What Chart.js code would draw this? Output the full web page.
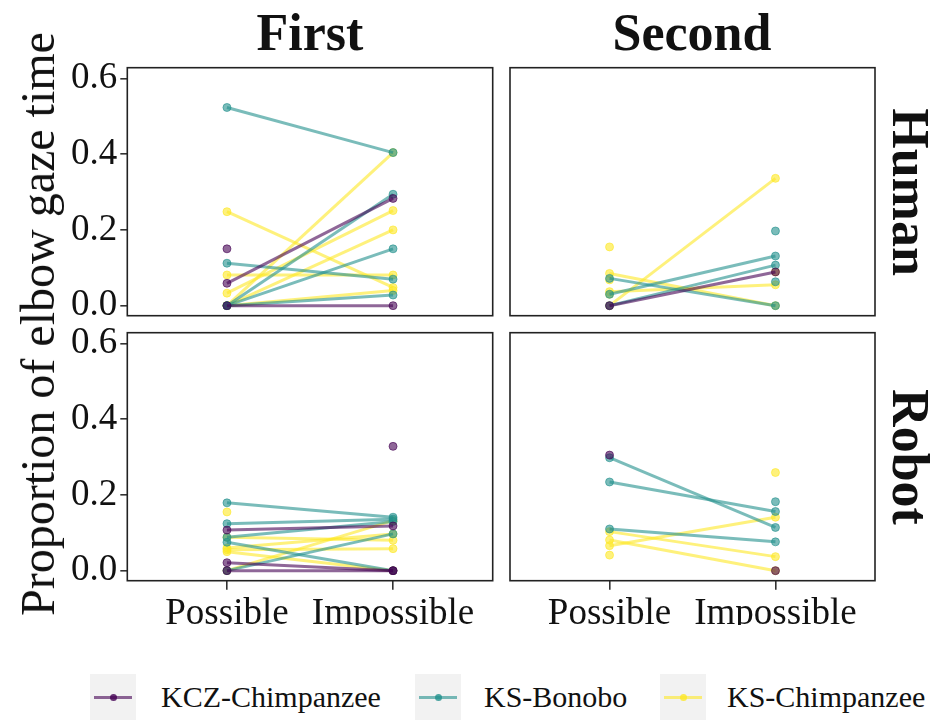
<!DOCTYPE html>
<html>
<head>
  <script src="https://cdn.jsdelivr.net/npm/chart.js@4.4.1/dist/chart.umd.min.js"></script>
  <title>Elbow gaze time</title>
  <style>
    body { margin: 0; background: #fff; }
    #wrap { position: relative; width: 936px; height: 721px; overflow: hidden;
            font-family: "Liberation Serif", "Times New Roman", serif; color: #111; }
    canvas { position: absolute; }
    .txt { position: absolute; line-height: 1; white-space: nowrap; transform: translate(-50%, -50%); }
    .title { font-size: 52px; font-weight: bold; }
    .strip { font-size: 52px; font-weight: bold; transform: translate(-50%, -50%) rotate(90deg); }
    .ytitle { font-size: 48px; transform: translate(-50%, -50%) rotate(-90deg); }
    .key { position: absolute; top: 674px; width: 46px; height: 46px; background: #f2f2f2; }
    .key .ln { position: absolute; left: 4px; right: 4px; top: 21.5px; height: 3px; }
    .key .dot { position: absolute; left: 19.5px; top: 19.5px; width: 7px; height: 7px; border-radius: 50%; }
    .lab { position: absolute; top: 697px; font-size: 30px; line-height: 1; transform: translateY(-50%); white-space: nowrap; }
  </style>
</head>
<body>
<div id="wrap">
  <canvas id="c1" width="500" height="345" style="left:0;top:0"></canvas>
  <canvas id="c2" width="431" height="345" style="left:505px;top:0"></canvas>
  <canvas id="c3" width="500" height="330" style="left:0;top:295px"></canvas>
  <canvas id="c4" width="431" height="330" style="left:505px;top:295px"></canvas>

  <div class="txt title" style="left:310px;top:33px">First</div>
  <div class="txt title" style="left:692px;top:33px">Second</div>
  <div class="txt strip" style="left:910px;top:192px">Human</div>
  <div class="txt strip" style="left:910px;top:457px">Robot</div>
  <div class="txt ytitle" style="left:38px;top:324px">Proportion of elbow gaze time</div>

  <div class="key" style="left:90px"><div class="ln" id="l0"></div><div class="dot" id="d0"></div></div>
  <div class="lab" style="left:161px">KCZ-Chimpanzee</div>
  <div class="key" style="left:415px"><div class="ln" id="l1"></div><div class="dot" id="d1"></div></div>
  <div class="lab" style="left:484px">KS-Bonobo</div>
  <div class="key" style="left:660px"><div class="ln" id="l2"></div><div class="dot" id="d2"></div></div>
  <div class="lab" style="left:727px">KS-Chimpanzee</div>
</div>

<script>
  // conditions on the x axis and the groups
  const categories = ["Possible", "Impossible"];
  const groups = ["KCZ-Chimpanzee", "KS-Bonobo", "KS-Chimpanzee"];
  const groupColors = ["68, 1, 84", "33, 144, 140", "253, 231, 37"];
  const yTicks = [0, 0.2, 0.4, 0.6];

  // each pair = one individual: [Possible, Impossible]
  // First / Human
  const firstHumanKCZ = [[0.150, null], [0.059, 0.283], [0, 0]];
  const firstHumanBonobo = [[0.523, 0.404], [0.112, 0.070], [0, 0.294], [0, 0.150], [0, 0.028]];
  const firstHumanChimp = [[0.248, 0.048], [0.081, 0.081], [0, 0.404], [0.033, 0.251], [0, 0.200], [0, 0.040]];
  // Second / Human
  const secondHumanKCZ = [[0, 0.089]];
  const secondHumanBonobo = [[0.030, 0.131], [0, 0.107], [0.072, 0], [null, 0.197], [null, 0.063]];
  const secondHumanChimp = [[0, 0.336], [0.037, 0.055], [0.085, 0], [0.155, null], [0.068, null], [0.030, null], [null, 0.089]];
  // First / Robot
  const firstRobotKCZ = [[0.107, 0.118], [0.021, 0], [0, 0], [null, 0.328]];
  const firstRobotBonobo = [[0.179, 0.141], [0.124, 0.136], [0.088, 0.130], [0.075, 0], [0, 0.097]];
  const firstRobotChimp = [[0.155, null], [0.088, 0.080], [0.055, 0.058], [0.050, 0], [0, 0.132], [0.060, 0.097]];
  // Second / Robot
  const secondRobotKCZ = [[0.305, null], [null, 0]];
  const secondRobotBonobo = [[0.298, 0.114], [0.234, 0.156], [0.110, 0.076], [null, 0.182]];
  const secondRobotChimp = [[0.066, 0.141], [0.103, 0.037], [0.081, 0], [0.041, null], [null, 0.259]];

  // legend keys
  groupColors.forEach((c, i) => {
    document.getElementById("l" + i).style.background = `rgba(${c}, 0.6)`;
    document.getElementById("d" + i).style.background = `rgba(${c}, 0.8)`;
  });

  function makeDatasets(lists) {
    let sets = [];
    lists.forEach((list, g) => {
      list.forEach(pair => {
        sets.push({
          data: [{ x: 1, y: pair[0] }, { x: 2, y: pair[1] }],
          borderColor: `rgba(${groupColors[g]}, 0.6)`,
          backgroundColor: `rgba(${groupColors[g]}, 0.6)`,
          pointBorderColor: `rgba(${groupColors[g]}, 0.6)`,
          borderWidth: 3,
          pointRadius: 4,
          pointBorderWidth: 1,
          spanGaps: false,
        });
      });
    });
    return sets;
  }

  // box round each panel
  const panelBox = {
    id: "panelBox",
    afterDraw(chart) {
      const a = chart.chartArea;
      const ctx = chart.ctx;
      ctx.save();
      ctx.strokeStyle = "#222";
      ctx.lineWidth = 1.6;
      ctx.strokeRect(a.left, a.top, a.right - a.left, a.bottom - a.top);
      ctx.restore();
    }
  };

  function makeChart(id, lists, showY, showX, pad) {
    const ctx = document.getElementById(id).getContext("2d");
    return new Chart(ctx, {
      type: "line",
      data: { datasets: makeDatasets(lists) },
      plugins: [panelBox],
      options: {
        responsive: false,
        animation: false,
        layout: { padding: pad },
        plugins: { legend: { display: false }, tooltip: { enabled: false } },
        scales: {
          x: {
            type: "linear",
            min: 0.4,
            max: 2.6,
            display: showX,
            afterBuildTicks: s => { s.ticks = [{ value: 1 }, { value: 2 }]; },
            afterFit: s => { if (showX) s.height = 44.3; },
            grid: { drawOnChartArea: false, drawTicks: true, tickLength: 9, color: "#333", lineWidth: 1.6 },
            border: { display: false },
            ticks: {
              autoSkip: false, maxRotation: 0, padding: 2, color: "#111",
              font: { family: "Liberation Serif", size: 37 },
              callback: v => categories[v - 1]
            }
          },
          y: {
            min: -0.0265,
            max: 0.628,
            display: showY,
            afterBuildTicks: s => { s.ticks = yTicks.map(v => ({ value: v })); },
            afterFit: s => { if (showY) s.width = 127.3; },
            grid: { drawOnChartArea: false, drawTicks: true, tickLength: 7, color: "#333", lineWidth: 1.6 },
            border: { display: false },
            ticks: {
              padding: 3, color: "#111",
              font: { family: "Liberation Serif", size: 37 },
              callback: v => v.toFixed(1)
            }
          }
        }
      }
    });
  }

  makeChart("c1", [firstHumanKCZ, firstHumanBonobo, firstHumanChimp], true, false,
    { left: 0, top: 67.7, right: 7.3, bottom: 29.3 });
  makeChart("c2", [secondHumanKCZ, secondHumanBonobo, secondHumanChimp], false, false,
    { left: 4, top: 67.7, right: 61, bottom: 29.3 });
  makeChart("c3", [firstRobotKCZ, firstRobotBonobo, firstRobotChimp], true, true,
    { left: 0, top: 37.7, right: 7.3, bottom: 0 });
  makeChart("c4", [secondRobotKCZ, secondRobotBonobo, secondRobotChimp], false, true,
    { left: 4, top: 37.7, right: 61, bottom: 0 });
</script>
</body>
</html>
